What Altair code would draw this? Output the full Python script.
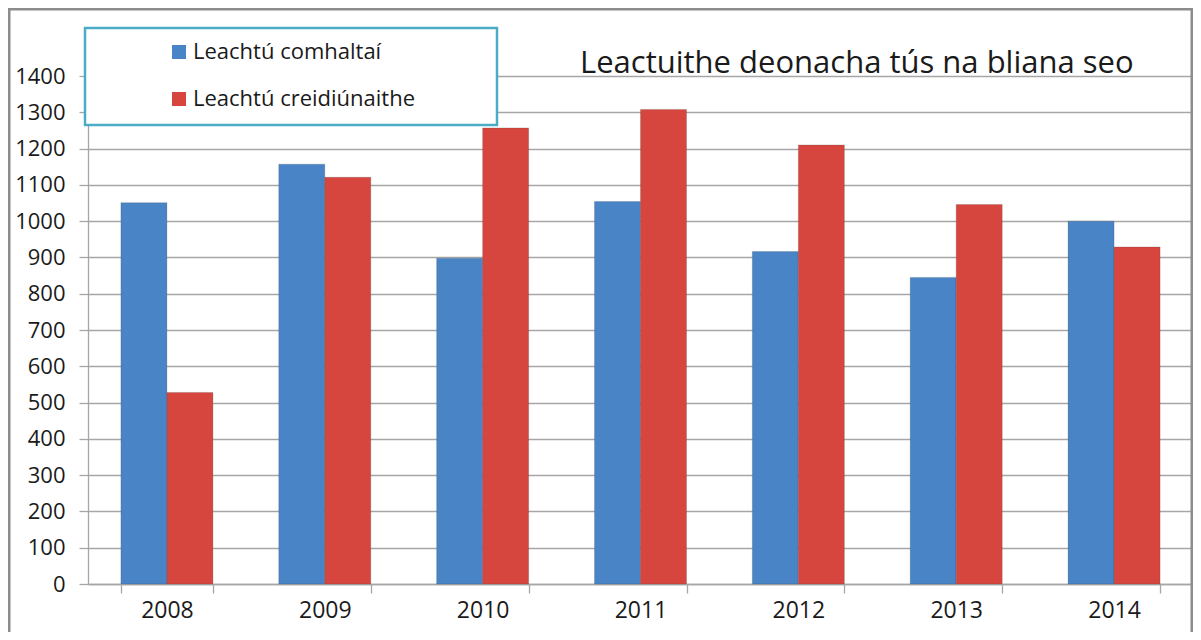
import altair as alt
import pandas as pd

years = ["2008", "2009", "2010", "2011", "2012", "2013", "2014"]
series_names = ["Leachtú comhaltaí", "Leachtú creidiúnaithe"]
members = [1051, 1157, 898, 1054, 916, 845, 1000]
creditors = [528, 1121, 1257, 1308, 1210, 1046, 929]
y_ticks = [0, 100, 200, 300, 400, 500, 600, 700, 800, 900, 1000, 1100, 1200, 1300, 1400]
title_text = "Leactuithe deonacha tús na bliana seo"
colors = ["#4884C6", "#D6463F"]

rows = []
for i, yr in enumerate(years):
    rows.append({"year": yr, "series": series_names[0], "value": members[i]})
    rows.append({"year": yr, "series": series_names[1], "value": creditors[i]})
df = pd.DataFrame(rows)

FONT = "Open Sans"
TXT = "#1a1a1a"
GRID = "#a6a6a6"

bars = alt.Chart(df).mark_bar(stroke="#3a3a3a", strokeOpacity=0.25, strokeWidth=0.8).encode(
    x=alt.X("year:N", sort=years,
            scale=alt.Scale(paddingInner=0.417, paddingOuter=0.2085),
            axis=alt.Axis(title=None, labelAngle=0, tickBand="extent", tickSize=9,
                          tickColor=GRID, domainColor=GRID, domainWidth=1.3, tickWidth=1.3,
                          labelFont=FONT, labelFontSize=23, labelColor=TXT, labelPadding=6,
                          grid=False)),
    xOffset=alt.XOffset("series:N", sort=series_names),
    y=alt.Y("value:Q", scale=alt.Scale(domain=[0, 1400], nice=False),
            axis=alt.Axis(title=None, values=y_ticks, format="d", tickSize=9, tickColor=GRID,
                          tickWidth=1.3, domainColor=GRID, domainWidth=1.3,
                          gridColor=GRID, gridWidth=1.3,
                          labelFont=FONT, labelFontSize=22, labelColor=TXT,
                          labelPadding=14)),
    color=alt.Color("series:N", sort=series_names,
                    scale=alt.Scale(domain=series_names, range=colors),
                    legend=alt.Legend(title=None, orient="none", legendX=80, legendY=-35,
                                      labelFont=FONT, labelFontSize=22, labelColor=TXT,
                                      symbolType="square", symbolSize=196,
                                      symbolStrokeWidth=0, rowPadding=25, labelOffset=3,
                                      labelLimit=400)),
)

one = pd.DataFrame({"t": [title_text]})

legend_box = alt.Chart(one).mark_rect(fill="white", stroke="#4BACC6", strokeWidth=2.5).encode(
    x=alt.value(-3), x2=alt.value(409), y=alt.value(-48), y2=alt.value(49)
)

frame = alt.Chart(one).mark_rect(fill="white", fillOpacity=0, stroke="#8c8c8c", strokeWidth=3).encode(
    x=alt.value(-79), x2=alt.value(1104), y=alt.value(-67), y2=alt.value(600)
)

title = alt.Chart(one).mark_text(font=FONT, fontSize=31, color=TXT, align="left",
                                 baseline="alphabetic").encode(
    text="t:N", x=alt.value(492), y=alt.value(-3)
)

chart = alt.layer(bars, legend_box, title, frame).properties(
    width=1105, height=508,
    autosize=alt.AutoSizeParams(type="none"),
    padding={"left": 80, "top": 68, "right": 0, "bottom": 48},
    background="white",
).configure_view(stroke=None)

chart.save("out.html", embed_options={"renderer": "svg", "actions": False})
